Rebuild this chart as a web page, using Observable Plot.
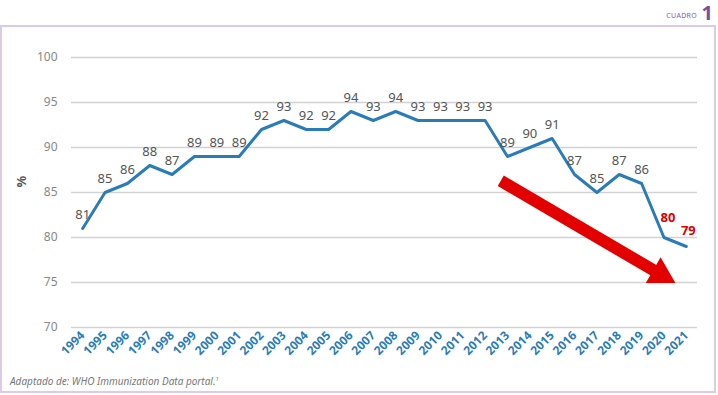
<!DOCTYPE html>
<html>
<head>
<meta charset="utf-8">
<script src="https://cdn.jsdelivr.net/npm/d3@7"></script>
<script src="https://cdn.jsdelivr.net/npm/@observablehq/plot@0.6"></script>
<style>
  html, body { margin: 0; padding: 0; background: #fff; }
  #wrap { position: relative; width: 718px; height: 395px; font-family: "Noto Sans", Lato, sans-serif; }
  #hdr1 { position: absolute; right: 21px; top: 11px; font-size: 7px; color: #8a5aa3; letter-spacing: 0.3px; }
  #hdr2 { position: absolute; right: 5px; top: 3px; font-size: 20px; font-weight: bold; color: #7d4e9b; line-height: 20px; }
  #box { position: absolute; left: 0; top: 25px; width: 712px; height: 364px; border: 2px solid #dccbe6; }
  #cap { position: absolute; left: 10px; top: 374px; font-size: 10px; font-style: italic; color: #777; }
  #cap sup { font-size: 6px; }
</style>
</head>
<body>
<div id="wrap">
  <div id="hdr1">CUADRO</div>
  <div id="hdr2">1</div>
  <div id="box"><div id="chart"></div></div>
  <div id="cap">Adaptado de: WHO Immunization Data portal.<sup>1</sup></div>
</div>
<script>
const years = [1994,1995,1996,1997,1998,1999,2000,2001,2002,2003,2004,2005,2006,2007,2008,2009,2010,2011,2012,2013,2014,2015,2016,2017,2018,2019,2020,2021];
const values = [81,85,86,88,87,89,89,89,92,93,92,92,94,93,94,93,93,93,93,89,90,91,87,85,87,86,80,79];
const yTicks = [70,75,80,85,90,95,100];
const highlightYears = [2020, 2021];
// trend arrow annotation (in data units): shaft start / head position
const arrowYears = [2012.7, 2019.85];
const arrowValues = [86.3, 75.9];

const data = years.map((y, i) => ({year: y, value: values[i]}));
const normal = data.filter(d => !highlightYears.includes(d.year));
const arrowShaft = arrowYears.map((y, i) => ({year: y, value: arrowValues[i]}));
const arrowHead = [arrowShaft[1]];

const blue = "#2a7cb8";
const chart = Plot.plot({
  width: 712,
  height: 345,
  marginTop: 30,
  marginLeft: 69,
  marginRight: 17,
  marginBottom: 45,
  style: { fontFamily: "'Noto Sans', Lato, sans-serif", background: "transparent" },
  x: { domain: [1993.5, 2021.5] },
  y: { domain: [70, 100] },
  marks: [
    Plot.ruleY(yTicks, { stroke: "#d2d2d2", strokeWidth: 1.5 }),
    Plot.axisY({ ticks: yTicks, tickSize: 0, tickPadding: 14, fontSize: 12, fill: "#888", label: null }),
    Plot.axisX({ ticks: years, tickFormat: d => String(d), tickSize: 0, tickPadding: 6, tickRotate: -45,
      fontSize: 12, fontWeight: "bold", fill: blue, label: null }),
    Plot.text(["%"], { frameAnchor: "left", dx: -50, dy: -5, rotate: -90, fontSize: 13, fill: "#555", fontWeight: "bold" }),
    Plot.line(data, { x: "year", y: "value", stroke: blue, strokeWidth: 3 }),
    Plot.text(normal, { x: "year", y: "value", text: d => String(d.value), dy: -14, fontSize: 13, fill: "#555" }),
    Plot.text(data.filter(d => d.year === 2020), { x: "year", y: "value", text: d => String(d.value), dx: 4, dy: -20, fontSize: 13, fill: "#e00000", fontWeight: "bold" }),
    Plot.text(data.filter(d => d.year === 2021), { x: "year", y: "value", text: d => String(d.value), dx: 2, dy: -16, fontSize: 13, fill: "#e00000", fontWeight: "bold" }),
    Plot.line(arrowShaft, { x: "year", y: "value", stroke: "#e30000", strokeWidth: 12, strokeLinecap: "butt" }),
    Plot.dot(arrowHead, { x: "year", y: "value", symbol: "triangle", r: 11, fill: "#e30000", stroke: "none", rotate: 120 })
  ]
});
document.getElementById("chart").appendChild(chart);
</script>
</body>
</html>
